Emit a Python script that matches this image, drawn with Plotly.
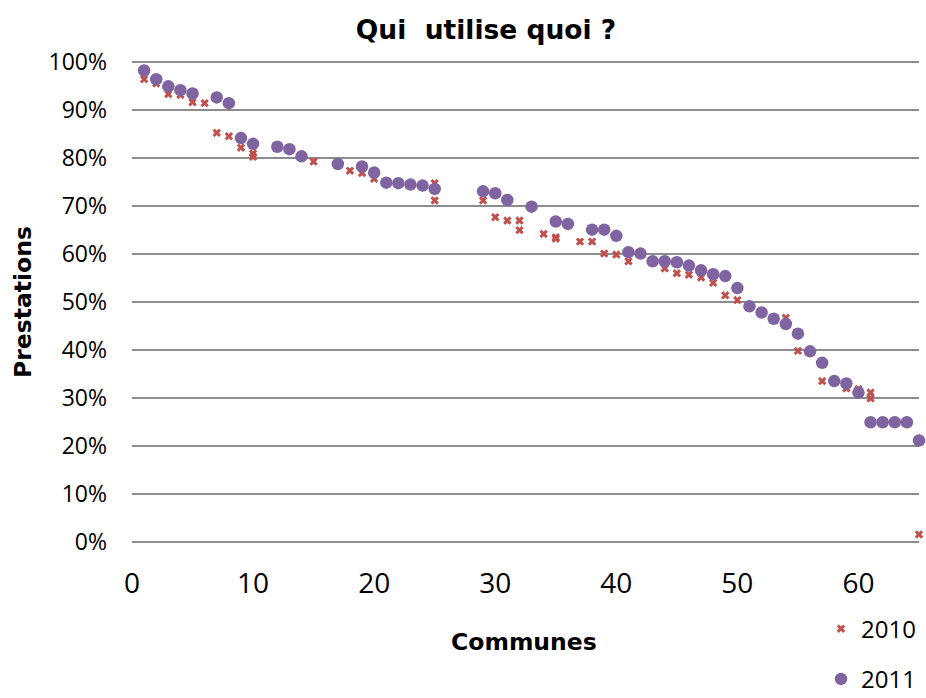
import plotly.graph_objects as go

# ---- data (percent) ----
communes_2010 = [1, 2, 3, 4, 5, 6, 7, 8, 9, 10, 10, 15, 18, 19, 20, 25, 25, 29, 30, 31,
                 32, 32, 34, 35, 35, 37, 38, 39, 40, 41, 44, 45, 46, 47, 48, 49, 50,
                 54, 55, 57, 59, 60, 61, 61, 65]
values_2010 = [96.5, 95.6, 93.4, 93.2, 91.7, 91.5, 85.3, 84.6, 82.2, 81.0, 80.3, 79.3,
               77.4, 76.9, 75.7, 74.8, 71.2, 71.2, 67.7, 67.0, 67.0, 65.0, 64.2, 63.5,
               63.2, 62.6, 62.6, 60.1, 59.9, 58.5, 57.0, 56.0, 55.7, 55.1, 54.0, 51.4,
               50.4, 46.7, 39.8, 33.5, 32.0, 31.8, 31.1, 29.9, 1.5]

communes_2011 = [1, 2, 3, 4, 5, 7, 8, 9, 10, 12, 13, 14, 17, 19, 20, 21, 22, 23, 24, 25,
                 29, 30, 31, 33, 35, 36, 38, 39, 40, 41, 42, 43, 44, 45, 46, 47, 48, 49,
                 50, 51, 52, 53, 54, 55, 56, 57, 58, 59, 60, 61, 62, 63, 64, 65]
values_2011 = [98.3, 96.5, 95.0, 94.2, 93.5, 92.7, 91.5, 84.2, 83.0, 82.4, 81.9, 80.4,
               78.8, 78.3, 77.0, 74.9, 74.8, 74.5, 74.3, 73.6, 73.1, 72.7, 71.3, 69.9,
               66.8, 66.3, 65.1, 65.1, 63.8, 60.4, 60.1, 58.5, 58.5, 58.3, 57.6, 56.6,
               55.8, 55.4, 52.9, 49.1, 47.8, 46.5, 45.4, 43.4, 39.7, 37.3, 33.5, 33.0,
               31.1, 24.9, 24.9, 24.9, 24.9, 21.1]

x_ticks = [0, 10, 20, 30, 40, 50, 60]
y_ticks = [0, 0.1, 0.2, 0.3, 0.4, 0.5, 0.6, 0.7, 0.8, 0.9, 1.0]

fig = go.Figure()
fig.add_trace(go.Scatter(
    x=communes_2010, y=[v / 100 for v in values_2010], mode="markers", name="2010",
    legendgroup="a", cliponaxis=False,
    marker=dict(symbol="x", size=7.5, color="#C0504D", line=dict(width=0)),
))
fig.add_trace(go.Scatter(
    x=communes_2011, y=[v / 100 for v in values_2011], mode="markers", name="2011",
    legendgroup="b", cliponaxis=False,
    marker=dict(symbol="circle", size=12.5, color="#8064A2", line=dict(width=0)),
))

# plot area: x 131.7..919, y 61.7..541.7 for 0..100%; range padded by 0.5% each side
pad = 0.005
fig.update_layout(
    width=926, height=698,
    margin=dict(l=132, r=7, t=62 - 480 * pad, b=156 - 480 * pad, autoexpand=False),
    paper_bgcolor="white", plot_bgcolor="white",
    title=dict(text="Qui\u00a0 utilise quoi ?", x=486 / 926, xref="container",
               xanchor="center", y=1 - 30 / 698, yref="container", yanchor="middle",
               font=dict(family="DejaVu Sans", size=26.5, color="black", weight="bold")),
    xaxis=dict(range=[0, 65], tickvals=x_ticks, showgrid=False, zeroline=False,
               showline=False, ticks="", ticklabelstandoff=20, automargin=False,
               tickfont=dict(family="Open Sans", size=28, color="black")),
    yaxis=dict(range=[-pad, 1 + pad], tickvals=y_ticks, tickformat=".0%", showgrid=True,
               gridcolor="#8C8C8C", gridwidth=2, zeroline=False,
               showline=False, ticks="", ticklabelstandoff=24, automargin=False,
               tickfont=dict(family="Open Sans", size=23, color="black")),
    legend=dict(x=(821 - 132) / 787, xanchor="left", y=(541.7 - 602) / 484.8 - pad,
                yanchor="top", font=dict(family="Open Sans", size=24, color="black"),
                tracegroupgap=16, bgcolor="rgba(0,0,0,0)"),
    annotations=[
        dict(text="Communes", xref="paper", yref="paper", x=0.498,
             y=(541.7 - 640) / 484.8, xanchor="center", yanchor="middle",
             showarrow=False,
             font=dict(family="DejaVu Sans", size=23.5, color="black", weight="bold")),
        dict(text="Prestations", xref="paper", yref="paper", x=(23 - 132) / 787,
             y=0.5, xanchor="center", yanchor="middle", showarrow=False, textangle=-90,
             font=dict(family="DejaVu Sans", size=23.5, color="black", weight="bold")),
    ],
)

fig.write_html(
    "out.html",
    config={"displayModeBar": False},
    post_script="document.body.style.margin='0';document.body.style.padding='0';",
)
